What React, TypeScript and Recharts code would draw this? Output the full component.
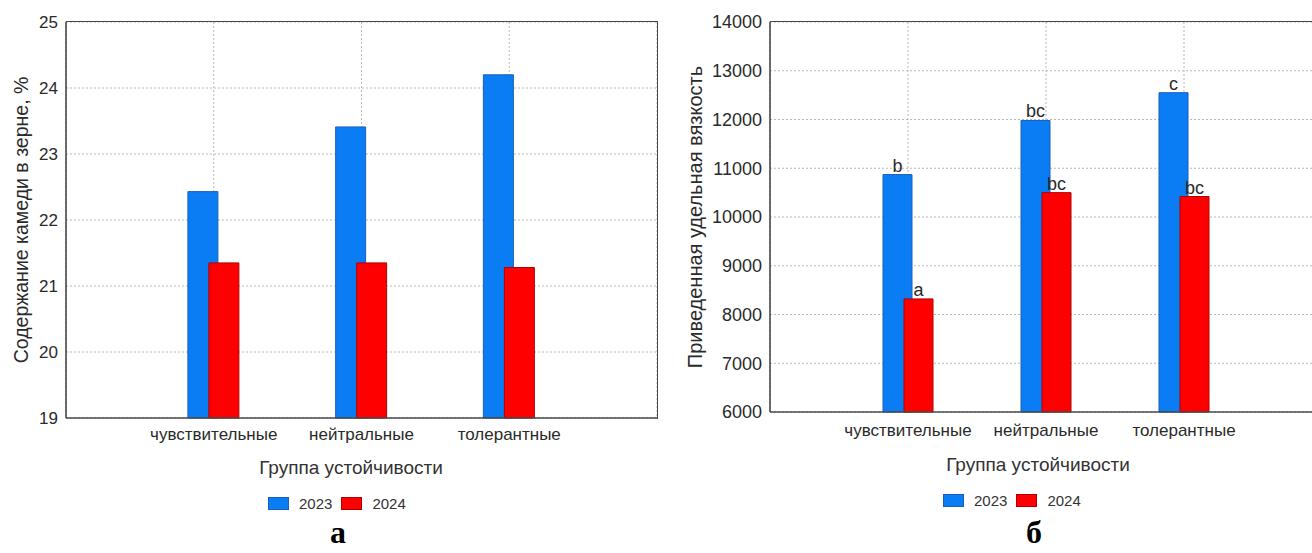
import { BarChart, Bar, XAxis, YAxis, CartesianGrid, LabelList } from 'recharts';

const groups = ['чувствительные', 'нейтральные', 'толерантные'];
const years = ['2023', '2024'];
const gum2023 = [22.43, 23.41, 24.2];
const gum2024 = [21.35, 21.35, 21.28];
const visc2023 = [10870, 11980, 12550];
const visc2024 = [8320, 10500, 10420];
const visc2023Letters = ['b', 'bc', 'c'];
const visc2024Letters = ['a', 'bc', 'bc'];
const gumTicks = [19, 20, 21, 22, 23, 24, 25];
const viscTicks = [6000, 7000, 8000, 9000, 10000, 11000, 12000, 13000, 14000];

const BLUE = '#0a7cf4';
const RED = '#ff0000';
const AXIS = '#4a4a4a';
const FONT = '"Liberation Sans", Arial, sans-serif';
const SERIF = '"Liberation Serif", "DejaVu Serif", serif';

const gumData = groups.map((g, i) => ({ group: g, a: gum2023[i], b: gum2024[i] }));
const viscData = groups.map((g, i) => ({
  group: g,
  a: visc2023[i],
  b: visc2024[i],
  la: visc2023Letters[i],
  lb: visc2024Letters[i],
}));

function Legend({ left, top }: { left: number; top: number }) {
  const colors = [BLUE, RED];
  const edges = ['#1a5fc0', '#b00000'];
  return (
    <div style={{ position: 'absolute', left, top, display: 'flex', alignItems: 'center', fontFamily: FONT, fontSize: 15, color: '#333' }}>
      {years.map((y, i) => (
        <div key={y} style={{ display: 'flex', alignItems: 'center', marginRight: 9 }}>
          <div style={{ width: 21, height: 13, background: colors[i], border: '1px solid ' + edges[i], boxSizing: 'border-box', marginRight: 10 }} />
          <span>{y}</span>
        </div>
      ))}
    </div>
  );
}

// plot frame (top and right edges of the Statistica-style box)
function Frame({ left, top, width, height }: { left: number; top: number; width: number; height: number }) {
  return (
    <div style={{ position: 'absolute', left, top, width, height, borderTop: '1.6px solid ' + AXIS, borderRight: '1.6px solid ' + AXIS, boxSizing: 'border-box', pointerEvents: 'none' }} />
  );
}

const tickStyle = { fill: '#2a2a2a', fontFamily: FONT };
const letterStyle = { position: 'absolute' as const, top: 517, width: 100, height: 30, lineHeight: '30px', textAlign: 'center' as const, fontFamily: SERIF, fontWeight: 'bold' as const, fontSize: 32 };

export default function App() {
  return (
    <div style={{ position: 'absolute', left: 0, top: 0, width: 1312, height: 553, background: '#fff', overflow: 'hidden' }}>
      {/* left chart */}
      <div style={{ position: 'absolute', left: 0, top: 0 }}>
        <BarChart width={660} height={460} data={gumData} margin={{ top: 22, right: 3, left: 16, bottom: 0 }} barSize={30} barGap={-9}>
          <CartesianGrid stroke="#b8b8b8" strokeDasharray="2 2" />
          <XAxis dataKey="group" padding={{ left: 73.9, right: 73.9 }} tickLine={false} tickSize={0} tickMargin={10} height={42}
            axisLine={{ stroke: AXIS, strokeWidth: 1.6 }} tick={{ ...tickStyle, fontSize: 17 }} interval={0} />
          <YAxis domain={[19, 25]} ticks={gumTicks} width={50} tickLine={false} tickSize={0} tickMargin={8}
            axisLine={{ stroke: AXIS, strokeWidth: 1.6 }} tick={{ ...tickStyle, fontSize: 17 }} interval={0}
            label={{ value: 'Содержание камеди в зерне, %', angle: -90, position: 'insideLeft', offset: 5, style: { textAnchor: 'middle', fill: '#2a2a2a', fontSize: 19.5, fontFamily: FONT } }} />
          <Bar dataKey="a" name="2023" fill={BLUE} stroke="#1a5fc0" strokeWidth={1} isAnimationActive={false} />
          <Bar dataKey="b" name="2024" fill={RED} stroke="#b00000" strokeWidth={1} isAnimationActive={false} />
        </BarChart>
      </div>
      <Frame left={66} top={21} width={592} height={398} />
      <div style={{ position: 'absolute', left: 251, top: 457, width: 200, textAlign: 'center', fontFamily: FONT, fontSize: 19, color: '#333' }}>
        Группа устойчивости
      </div>
      <Legend left={268} top={495} />
      <div style={{ ...letterStyle, left: 288 }}>а</div>

      {/* right chart */}
      <div style={{ position: 'absolute', left: 660, top: 0, width: 652, height: 460, overflow: 'hidden' }}>
        <BarChart width={662} height={460} data={viscData} margin={{ top: 22, right: 0, left: 30, bottom: 0 }} barSize={29} barGap={-8}>
          <CartesianGrid stroke="#b8b8b8" strokeDasharray="2 2" />
          <XAxis dataKey="group" padding={{ left: 69, right: 69 }} tickLine={false} tickSize={0} tickMargin={12} height={48}
            axisLine={{ stroke: AXIS, strokeWidth: 1.6 }} tick={{ ...tickStyle, fontSize: 17 }} interval={0} />
          <YAxis domain={[6000, 14000]} ticks={viscTicks} width={80} tickLine={false} tickSize={0} tickMargin={8}
            axisLine={{ stroke: AXIS, strokeWidth: 1.6 }} tick={{ ...tickStyle, fontSize: 18 }} interval={0}
            label={{ value: 'Приведенная удельная вязкость', angle: -90, position: 'insideLeft', offset: 5, style: { textAnchor: 'middle', fill: '#2a2a2a', fontSize: 20, fontFamily: FONT } }} />
          <Bar dataKey="a" name="2023" fill={BLUE} stroke="#1a5fc0" strokeWidth={1} isAnimationActive={false}>
            <LabelList dataKey="la" position="top" offset={3} fill="#2a2a2a" fontSize={18} fontFamily={FONT} />
          </Bar>
          <Bar dataKey="b" name="2024" fill={RED} stroke="#b00000" strokeWidth={1} isAnimationActive={false}>
            <LabelList dataKey="lb" position="top" offset={3} fill="#2a2a2a" fontSize={18} fontFamily={FONT} />
          </Bar>
        </BarChart>
      </div>
      <Frame left={770} top={21} width={560} height={392} />
      <div style={{ position: 'absolute', left: 938, top: 454, width: 200, textAlign: 'center', fontFamily: FONT, fontSize: 19, color: '#333' }}>
        Группа устойчивости
      </div>
      <Legend left={943} top={492} />
      <div style={{ ...letterStyle, left: 984 }}>б</div>
    </div>
  );
}
